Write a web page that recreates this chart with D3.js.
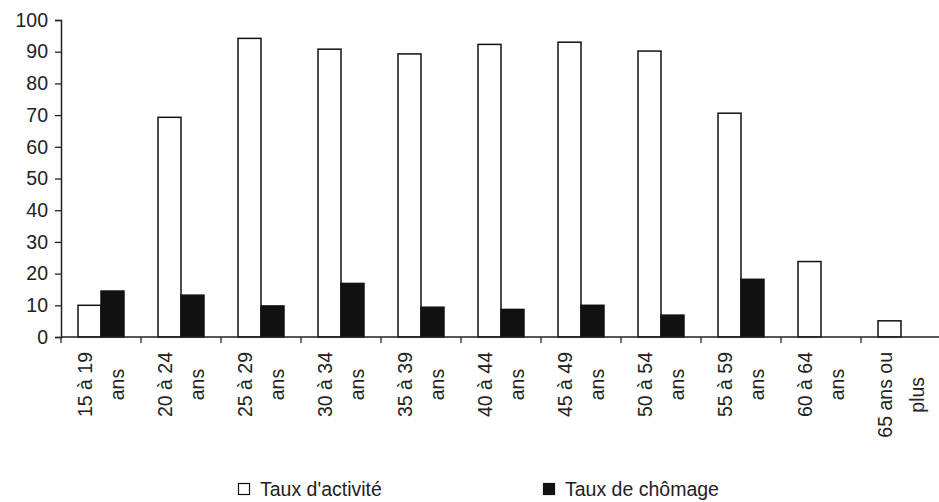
<!DOCTYPE html>
<html>
<head>
<meta charset="utf-8">
<script src="https://cdn.jsdelivr.net/npm/d3@7"></script>
<style>
  html, body { margin: 0; padding: 0; background: #fff; }
  svg { display: block; font-family: "Liberation Sans", Arial, sans-serif; }
</style>
</head>
<body>
<svg id="chart" width="939" height="502"></svg>
<script>
const categories = ["15 à 19 ans", "20 à 24 ans", "25 à 29 ans", "30 à 34 ans", "35 à 39 ans",
  "40 à 44 ans", "45 à 49 ans", "50 à 54 ans", "55 à 59 ans", "60 à 64 ans", "65 ans ou plus"];
const categoryLines = [["15 à 19", "ans"], ["20 à 24", "ans"], ["25 à 29", "ans"], ["30 à 34", "ans"],
  ["35 à 39", "ans"], ["40 à 44", "ans"], ["45 à 49", "ans"], ["50 à 54", "ans"], ["55 à 59", "ans"],
  ["60 à 64", "ans"], ["65 ans ou", "plus"]];
const seriesNames = ["Taux d'activité", "Taux de chômage"];
const activite = [10, 69.3, 94.2, 90.8, 89.3, 92.3, 93, 90.2, 70.6, 23.8, 5.1];
const chomage = [14.5, 13.2, 9.8, 16.9, 9.4, 8.7, 10, 6.9, 18.2, null, null];
const yTicks = [0, 10, 20, 30, 40, 50, 60, 70, 80, 90, 100];

(function () {
const svg = d3.select("#chart");
const mLeft = 61, mRight = 941, mTop = 20, mBottom = 337;
const ink = "#222";
const fontSize = 19.5;

const x0 = d3.scaleBand().domain(categories).range([mLeft, mRight]).paddingInner(0).paddingOuter(0);
const x1 = d3.scaleBand().domain(seriesNames).range([0, x0.bandwidth()]).paddingInner(0).paddingOuter(0.74);
const y = d3.scaleLinear().domain([0, 100]).range([mBottom, mTop]);

const fills = ["#fff", "#111"];
const seriesValues = [activite, chomage];

// bars
seriesNames.forEach((s, si) => {
  svg.append("g").selectAll("rect")
    .data(categories.map((c, i) => ({ c, v: seriesValues[si][i] })).filter(d => d.v != null))
    .join("rect")
    .attr("x", d => x0(d.c) + x1(s))
    .attr("y", d => y(d.v))
    .attr("width", x1.bandwidth())
    .attr("height", d => y(0) - y(d.v))
    .attr("fill", fills[si])
    .attr("stroke", "#111")
    .attr("stroke-width", 1.5);
});

// y axis
const yAxis = svg.append("g").attr("transform", `translate(${mLeft},0)`)
  .call(d3.axisLeft(y).tickValues(yTicks).tickSize(6).tickPadding(7).tickFormat(d3.format("d")));
yAxis.select(".domain").attr("stroke", ink).attr("stroke-width", 1.5);
yAxis.selectAll(".tick line").attr("stroke", ink).attr("stroke-width", 1.3);
yAxis.selectAll(".tick text").attr("fill", ink).attr("font-size", fontSize)
  .attr("font-family", "'Liberation Sans', Arial, sans-serif");

// x axis line
svg.append("line").attr("x1", mLeft).attr("x2", 939).attr("y1", y(0)).attr("y2", y(0))
  .attr("stroke", ink).attr("stroke-width", 1.5);
// x ticks at band boundaries
const boundaries = categories.map(c => x0(c)).concat([x0(categories[categories.length - 1]) + x0.step()]);
svg.append("g").selectAll("line").data(boundaries.filter(b => b <= 939)).join("line")
  .attr("x1", d => d).attr("x2", d => d).attr("y1", y(0)).attr("y2", y(0) + 6)
  .attr("stroke", ink).attr("stroke-width", 1.3);

// x labels, rotated
const labelTop = 352;
categories.forEach((c, i) => {
  const cx = x0(c) + x0.bandwidth() / 2;
  const g = svg.append("g").attr("transform", `translate(${cx},${labelTop}) rotate(-90)`);
  const lines = categoryLines[i];
  const texts = lines.map((ln, li) => g.append("text")
    .text(ln)
    .attr("font-size", fontSize)
    .attr("fill", ink)
    .attr("text-anchor", "middle")
    .attr("dy", "0.35em")
    .attr("y", (li - (lines.length - 1) / 2) * 32));
  const maxLen = d3.max(texts, t => t.node().getComputedTextLength());
  texts.forEach(t => t.attr("x", -maxLen / 2));
});

// legend
const legend = [
  { name: seriesNames[0], x: 238, fill: fills[0] },
  { name: seriesNames[1], x: 543, fill: fills[1] }
];
legend.forEach(l => {
  svg.append("rect").attr("x", l.x + 0.5).attr("y", 483.5).attr("width", 11).attr("height", 11)
    .attr("fill", l.fill).attr("stroke", "#111").attr("stroke-width", 1.2);
  svg.append("text").attr("x", l.x + 22).attr("y", 496).text(l.name)
    .attr("font-size", fontSize).attr("fill", ink);
});
})();
</script>
</body>
</html>
